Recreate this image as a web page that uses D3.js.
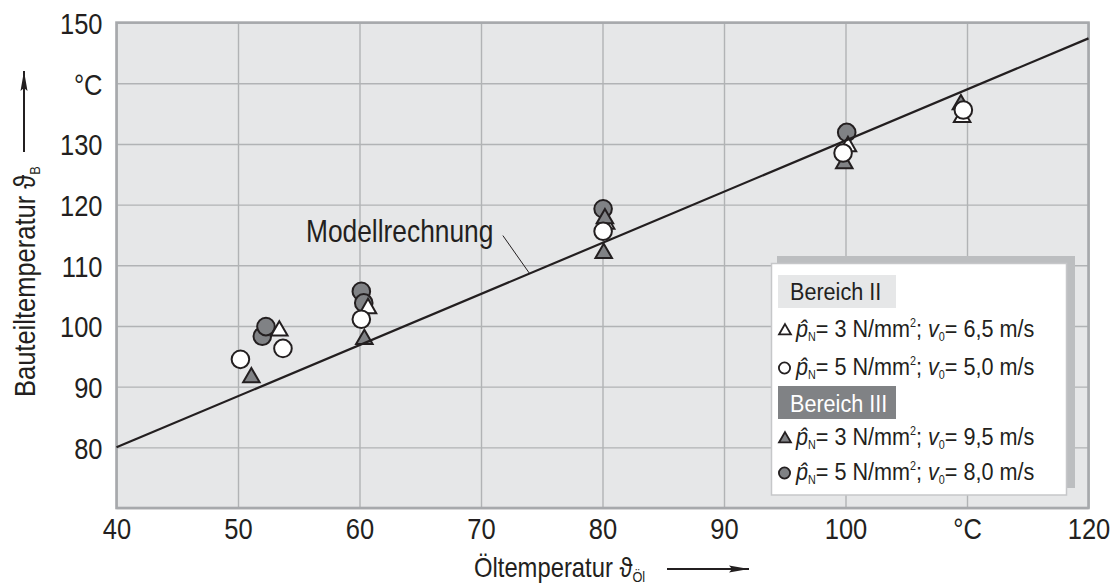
<!DOCTYPE html>
<html>
<head>
<meta charset="utf-8">
<script src="https://cdn.jsdelivr.net/npm/d3@7.9.0/dist/d3.min.js"></script>
<style>
  body { margin: 0; background: #fff; }
  svg text { font-family: "Liberation Sans", Arial, sans-serif; fill: #231f20; }
</style>
</head>
<body>
<svg id="chart" width="1119" height="585"></svg>
<script>
// x axis ticks (Öltemperatur) and y axis ticks (Bauteiltemperatur)
const xTicks = [40, 50, 60, 70, 80, 90, 100, 110, 120];
const xTickLabels = ['40', '50', '60', '70', '80', '90', '100', '°C', '120'];
const yTicks = [70, 80, 90, 100, 110, 120, 130, 140, 150];
const yTickLabels = ['', '80', '90', '100', '110', '120', '130', '°C', '150'];

// Modellrechnung (straight line)
const modelLine = [[40, 80], [120, 147.4]];

// Bereich II, p=3 N/mm², v0=6,5 m/s (open triangles)
const openTriangles = [[53.4, 99.2], [60.7, 102.9], [80.3, 116.8], [100.2, 129.6], [109.6, 134.4]];
// Bereich II, p=5 N/mm², v0=5,0 m/s (open circles)
const openCircles = [[50.2, 94.5], [53.7, 96.3], [60.15, 101.1], [80.05, 115.6], [99.8, 128.5], [109.7, 135.6]];
// Bereich III, p=3 N/mm², v0=9,5 m/s (filled triangles)
const filledTriangles = [[51.1, 91.5], [60.4, 97.8], [80.1, 112.0], [80.2, 117.7], [99.9, 126.8], [109.5, 136.5]];
// Bereich III, p=5 N/mm², v0=8,0 m/s (filled circles)
const filledCircles = [[52.0, 98.3], [52.3, 99.9], [60.15, 105.7], [60.35, 103.8], [80.05, 119.3], [100.1, 131.9]];

const INK = '#231f20';
const GRAY = '#808285';
const NARROW = 0.85; // no condensed font installed, squeeze Liberation Sans

const svg = d3.select('#chart');

const x = d3.scaleLinear().domain([40, 120]).range([116.5, 1088.5]);
const y = d3.scaleLinear().domain([70, 150]).range([508, 22.6]);

function label(parent, px, py, size, k = NARROW, rot = 0) {
  return parent.append('text')
    .attr('transform', `translate(${px},${py})${rot ? ` rotate(${rot})` : ''} scale(${k},1)`)
    .attr('font-size', size);
}

// plot background
svg.append('rect')
  .attr('x', x(40)).attr('y', y(150))
  .attr('width', x(120) - x(40)).attr('height', y(70) - y(150))
  .attr('fill', '#e6e7e8');

// grid lines
svg.append('g')
  .attr('transform', `translate(0,${y(70)})`)
  .call(d3.axisBottom(x).tickValues(xTicks).tickSize(-(y(70) - y(150))).tickFormat(''))
  .call(g => g.select('.domain').remove())
  .call(g => g.selectAll('line').attr('stroke', '#b1b3b5').attr('stroke-width', 1.4));

svg.append('g')
  .attr('transform', `translate(${x(40)},0)`)
  .call(d3.axisLeft(y).tickValues(yTicks).tickSize(-(x(120) - x(40))).tickFormat(''))
  .call(g => g.select('.domain').remove())
  .call(g => g.selectAll('line').attr('stroke', '#b1b3b5').attr('stroke-width', 1.4));

// frame
svg.append('rect')
  .attr('x', x(40)).attr('y', y(150))
  .attr('width', x(120) - x(40)).attr('height', y(70) - y(150))
  .attr('fill', 'none').attr('stroke', '#a7a9ac').attr('stroke-width', 2.6);

// tick labels
svg.append('g')
  .attr('transform', `translate(0,${y(70)})`)
  .call(d3.axisBottom(x).tickValues(xTicks).tickSize(0).tickPadding(10)
    .tickFormat((d, i) => xTickLabels[i]))
  .call(g => g.select('.domain').remove())
  .call(g => g.selectAll('text').attr('font-size', 30).attr('dy', '0.71em')
    .attr('transform', `scale(${NARROW},1)`));

svg.append('g')
  .attr('transform', `translate(${x(40)},0)`)
  .call(d3.axisLeft(y).tickValues(yTicks).tickSize(0)
    .tickFormat((d, i) => yTickLabels[i]))
  .call(g => g.select('.domain').remove())
  .call(g => g.selectAll('text').attr('font-size', 30).attr('dy', '0.36em')
    .attr('x', -14 / NARROW).attr('transform', `scale(${NARROW},1)`));

svg.selectAll('.tick text').attr('font-family', null).attr('fill', INK);

// markers
const triPath = d3.symbol().type(d3.symbolTriangle).size(118);
const marks = svg.append('g');

marks.selectAll('.fc').data(filledCircles).join('circle')
  .attr('cx', d => x(d[0])).attr('cy', d => y(d[1])).attr('r', 8.8)
  .attr('fill', GRAY).attr('stroke', INK).attr('stroke-width', 2);

marks.selectAll('.ot').data(openTriangles).join('path')
  .attr('d', triPath).attr('transform', d => `translate(${x(d[0])},${y(d[1])})`)
  .attr('fill', '#fff').attr('stroke', INK).attr('stroke-width', 2);

marks.selectAll('.ft').data(filledTriangles).join('path')
  .attr('d', triPath).attr('transform', d => `translate(${x(d[0])},${y(d[1])})`)
  .attr('fill', GRAY).attr('stroke', INK).attr('stroke-width', 2);

marks.selectAll('.oc').data(openCircles).join('circle')
  .attr('cx', d => x(d[0])).attr('cy', d => y(d[1])).attr('r', 8.8)
  .attr('fill', '#fff').attr('stroke', INK).attr('stroke-width', 2);

// model line
const slope = (modelLine[1][1] - modelLine[0][1]) / (modelLine[1][0] - modelLine[0][0]);
svg.append('path')
  .datum(modelLine)
  .attr('d', d3.line().x(d => x(d[0])).y(d => y(d[1])))
  .attr('stroke', INK).attr('stroke-width', 2.2).attr('fill', 'none');

// annotation
svg.append('line')
  .attr('x1', x(71.8)).attr('y1', y(114.9))
  .attr('x2', x(74)).attr('y2', y(80 + slope * 34))
  .attr('stroke', INK).attr('stroke-width', 1);
label(svg, 306, 242, 31).text('Modellrechnung');

// legend
const lg = svg.append('g');
lg.append('rect').attr('x', 777).attr('y', 256).attr('width', 298).attr('height', 232).attr('fill', '#bcbec0');
lg.append('rect').attr('x', 771.5).attr('y', 263.5).attr('width', 295).attr('height', 231.5)
  .attr('fill', '#fff').attr('stroke', '#c6c7c9').attr('stroke-width', 1.5);

const LEG_K = 0.9;
lg.append('rect').attr('x', 778).attr('y', 275).attr('width', 118).attr('height', 33).attr('fill', '#e6e7e8');
label(lg, 790, 299.5, 24, LEG_K).text('Bereich II');
lg.append('rect').attr('x', 778).attr('y', 386).attr('width', 118).attr('height', 33).attr('fill', GRAY);
label(lg, 790, 411.5, 24, LEG_K).style('fill', '#fff').text('Bereich III');

const smallTri = d3.symbol().type(d3.symbolTriangle).size(62);

function legendRow(base, pVal, vVal, kind, fill) {
  if (kind === 'tri') {
    lg.append('path').attr('d', smallTri).attr('transform', `translate(785,${base - 6})`)
      .attr('fill', fill).attr('stroke', INK).attr('stroke-width', 1.8);
  } else {
    lg.append('circle').attr('cx', 784.5).attr('cy', base - 7).attr('r', 5.6)
      .attr('fill', fill).attr('stroke', INK).attr('stroke-width', 1.8);
  }
  const t = label(lg, 796, base, 24, LEG_K);
  t.append('tspan').attr('font-style', 'italic').text('p\u0302');
  t.append('tspan').attr('font-size', 12).attr('dy', 4).text('N');
  t.append('tspan').attr('dy', -4).text(`= ${pVal} N/mm`);
  t.append('tspan').attr('font-size', 12).attr('dy', -10).text('2');
  t.append('tspan').attr('dy', 10).text('; ');
  t.append('tspan').attr('font-style', 'italic').text('v');
  t.append('tspan').attr('font-size', 12).attr('dy', 4).text('0');
  t.append('tspan').attr('dy', -4).text(`= ${vVal} m/s`);
}

legendRow(337, 3, '6,5', 'tri', '#fff');
legendRow(375, 5, '5,0', 'circ', '#fff');
legendRow(445, 3, '9,5', 'tri', GRAY);
legendRow(480, 5, '8,0', 'circ', GRAY);

// axis titles with arrows
const xt = label(svg, 474, 577, 28);
xt.append('tspan').text('Öltemperatur \u03D1');
xt.append('tspan').attr('font-size', 15).attr('dy', 5).text('Öl');

const yt = label(svg, 35, 397, 30, NARROW, -90);
yt.append('tspan').text('Bauteiltemperatur \u03D1');
yt.append('tspan').attr('font-size', 15).attr('dy', 5).text('B');

svg.append('defs').append('marker')
  .attr('id', 'arr').attr('viewBox', '0 0 20 8').attr('refX', 20).attr('refY', 4)
  .attr('markerWidth', 20).attr('markerHeight', 8).attr('markerUnits', 'userSpaceOnUse')
  .attr('orient', 'auto')
  .append('path').attr('d', 'M0,0.5 L20,4 L0,7.5 L3,4 Z').attr('fill', INK);

svg.append('line').attr('x1', 667).attr('y1', 569).attr('x2', 749).attr('y2', 569)
  .attr('stroke', INK).attr('stroke-width', 2).attr('marker-end', 'url(#arr)');
svg.append('line').attr('x1', 24).attr('y1', 152).attr('x2', 24).attr('y2', 71)
  .attr('stroke', INK).attr('stroke-width', 2).attr('marker-end', 'url(#arr)');
</script>
</body>
</html>
